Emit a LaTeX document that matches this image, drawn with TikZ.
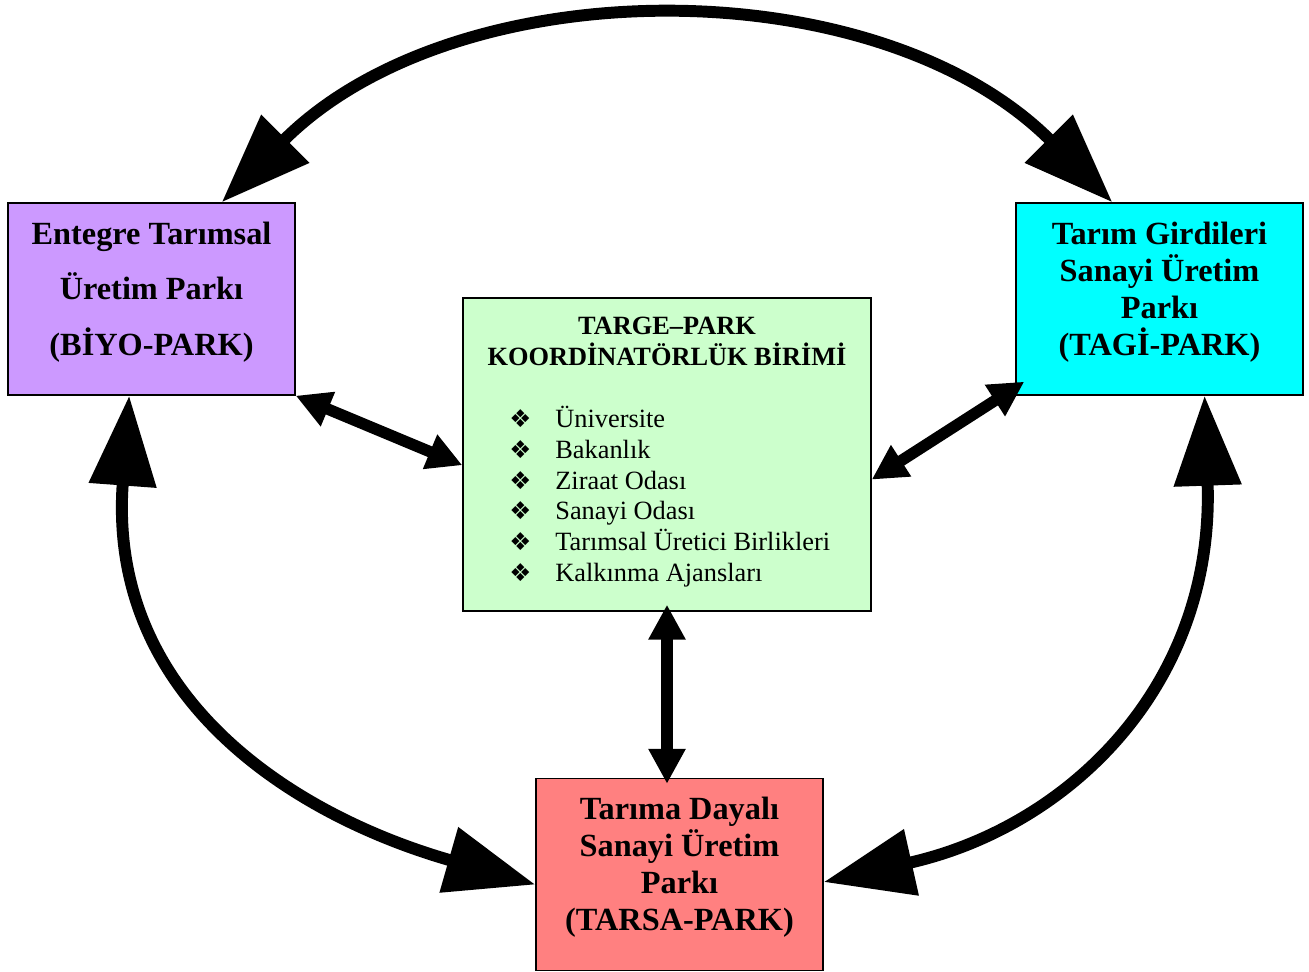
\documentclass[tikz,border=0pt]{standalone}
\usepackage{fontspec}
\setmainfont{Liberation Serif}
\newfontfamily\dingfont{DejaVu Sans}
\usepackage{xcolor}
\usepackage{tikz}
\usetikzlibrary{arrows.meta,calc}

\definecolor{parkpurple}{HTML}{CC99FF}
\definecolor{parkcyan}{HTML}{00FFFF}
\definecolor{parkgreen}{HTML}{CCFFCC}
\definecolor{parkred}{HTML}{FF8080}

\newcommand{\koorditem}[1]{\makebox[0.92cm][l]{\dingfont\fontsize{14}{14}\selectfont ❖}#1}

\begin{document}
\begin{tikzpicture}[
    x=0.02cm, y=-0.02cm,
    park/.style={draw, line width=0.8pt, minimum width=5.74cm, minimum height=3.84cm, inner sep=0pt, text depth=12pt, align=center, font=\fontsize{18.4}{21}\selectfont\bfseries},
    bigflow/.style={{Triangle[length=1.8cm,width=1.3cm]}-{Triangle[length=1.8cm,width=1.3cm]}, line width=6.8pt},
    flow/.style={{Triangle[length=0.7cm,width=0.7cm]}-{Triangle[length=0.7cm,width=0.7cm]}, line width=6.5pt}
]
\useasboundingbox (0,0) rectangle (1309,972);
% the four boxes
\node[park, fill=parkpurple, font=\fontsize{18.4}{31.6}\selectfont\bfseries] (biyo) at (151.5,299) {Entegre Tarımsal\\Üretim Parkı\\(BİYO-PARK)};
\node[park, fill=parkcyan] (tagi) at (1159.5,299) {Tarım Girdileri\\Sanayi Üretim\\Parkı\\(TAGİ-PARK)};
\node[park, fill=parkred] (tarsa) at (679.5,874.5) {Tarıma Dayalı\\Sanayi Üretim\\Parkı\\(TARSA-PARK)};
\node[draw, line width=0.8pt, fill=parkgreen, minimum width=8.16cm, minimum height=6.26cm] (koord) at (667,454.5) {};
\node[font=\fontsize{15}{17.6}\selectfont\bfseries, align=center] (koordtitle) at (667,341.5) {TARGE–PARK\\KOORDİNATÖRLÜK BİRİMİ};
\node[font=\fontsize{15}{17.5}\selectfont, align=left, anchor=north west, inner sep=0pt] (koordlist) at (509,406) {\koorditem{Üniversite}\\\koorditem{Bakanlık}\\\koorditem{Ziraat Odası}\\\koorditem{Sanayi Odası}\\\koorditem{Tarımsal Üretici Birlikleri}\\\koorditem{Kalkınma Ajansları}};
% outer ring
\draw[bigflow] (biyo.54) .. controls +(235,-235) and +(-235,-235) .. (tagi.116);
\draw[bigflow] (biyo.-103) .. controls +(-22,300) and +(-245,-70) .. (tarsa.184);
\draw[bigflow] (tagi.-65) .. controls +(10,290) and +(245,-55) .. (tarsa.-3);
% links to the coordination unit
\draw[flow] (biyo.south east) -- (koord.183.5);
\draw[flow] (koord.-7.4) -- ([shift={(9,-14)}]tagi.south west);
\draw[flow, shorten <=-0.14cm, shorten >=-0.12cm] (koord.south) -- (koord.south |- tarsa.north);
\end{tikzpicture}
\end{document}
